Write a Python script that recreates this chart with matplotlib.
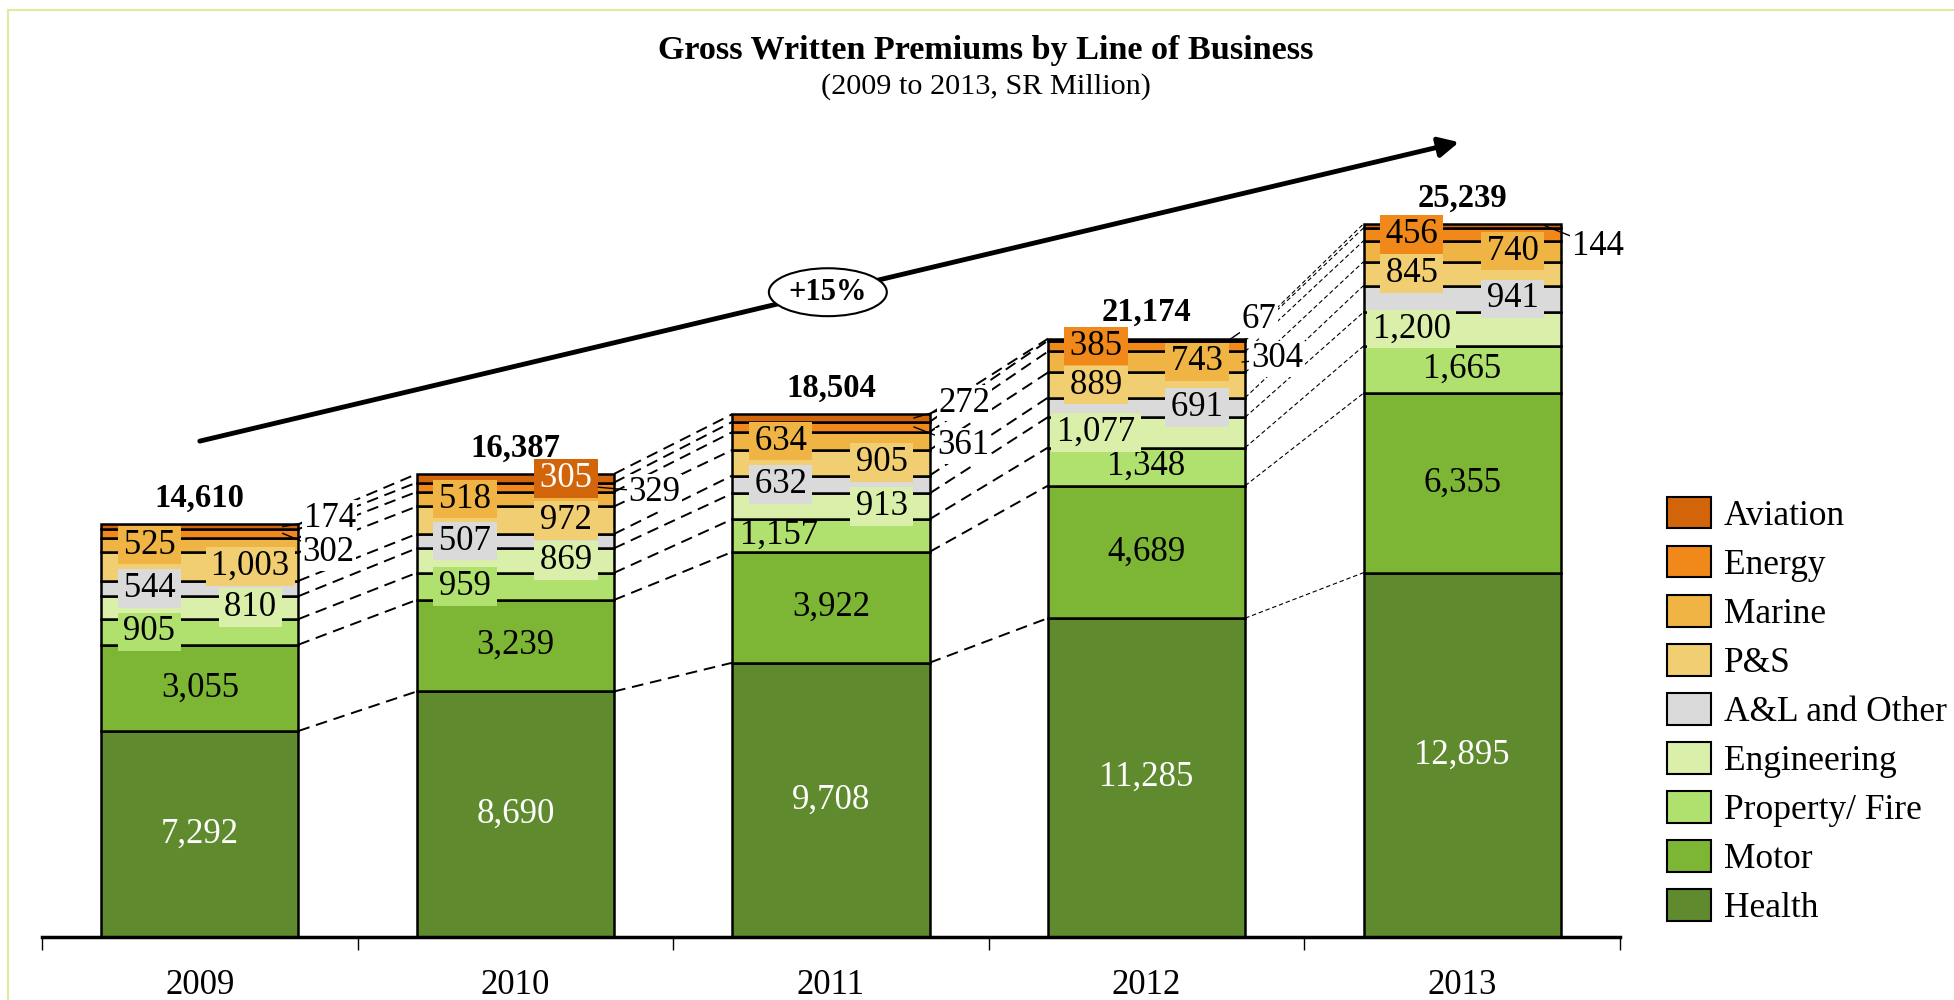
import numpy as np
import matplotlib
matplotlib.use('Agg')
import matplotlib.pyplot as plt
from matplotlib.patches import Patch, Rectangle

plt.rcParams['font.family'] = ['Liberation Serif', 'DejaVu Serif']

# data (SR Million)
years = ['2009', '2010', '2011', '2012', '2013']
lines_of_business = ['Health', 'Motor', 'Property/ Fire', 'Engineering', 'A&L and Other',
                     'P&S', 'Marine', 'Energy', 'Aviation']
health = [7292, 8690, 9708, 11285, 12895]
motor = [3055, 3239, 3922, 4689, 6355]
property_fire = [905, 959, 1157, 1348, 1665]
engineering = [810, 869, 913, 1077, 1200]
al_other = [544, 507, 632, 691, 941]
p_and_s = [1003, 972, 905, 889, 845]
marine = [525, 518, 634, 743, 740]
energy = [302, 329, 361, 385, 456]
aviation = [174, 305, 272, 67, 144]
totals = [14610, 16387, 18504, 21174, 25239]
growth_label = '+15%'
stray_label = '304'   # extra label shown next to 2012 bar

series = [health, motor, property_fire, engineering, al_other, p_and_s, marine, energy, aviation]
colors = ['#5F8A2E', '#7DB634', '#B0E06E', '#DAF0AA', '#DADADA',
          '#F2CE72', '#EFB443', '#F0891A', '#D2640A']

# label placement per year: c=center, l/r=left/right boxed, L=left no box, o=outside
label_layout = ['cclrlrloo', 'cclrlrlor', 'ccLrlrloo', 'ccclrlrlo', 'ccclrlrlo']
# outside labels: (year index, series index, dx px, dy px)
outside = [(0, 8, 21, 8), (0, 7, 20, -19), (1, 7, 30, -5), (2, 8, 25, 15),
           (2, 7, 23, -19), (3, 8, 12, 20), (4, 8, 27, -21)]

FS = 25
HS = '\u200a'

fig = plt.figure(figsize=(19.54, 10), dpi=100)
ax = fig.add_axes([42 / 1954, 0.063, 1578 / 1954, 0.907])
ax.set_xlim(-0.5, 4.5)
ax.set_ylim(0, 32100)

x = np.arange(len(years))
bw = 0.625
bottoms = np.zeros(len(years))
tops = []
for vals, color in zip(series, colors):
    ax.bar(x, vals, bw, bottom=bottoms, color=color, edgecolor='black', linewidth=1.8, zorder=2)
    bottoms = bottoms + np.array(vals)
    tops.append(bottoms.copy())

# dashed connectors between bars
for i in range(len(years) - 1):
    if i == len(years) - 2:
        lw, ls = 0.8, (0, (4, 2.5))
    else:
        lw, ls = 1.4, (0, (6, 3.5))
    for t in tops:
        ax.plot([i + bw / 2, i + 1 - bw / 2], [t[i], t[i + 1]], color='black',
                lw=lw, ls=ls, zorder=1)

# segment labels
xoff = {'c': 0.0, 'l': -0.16, 'L': -0.165, 'r': 0.16}
for i in range(len(years)):
    for k, vals in enumerate(series):
        code = label_layout[i][k]
        if code == 'o':
            continue
        v = vals[i]
        cy = tops[k][i] - v / 2
        tc = 'white' if k in (0, 8) else 'black'
        if code in 'lr':
            ax.text(i + xoff[code], cy, HS + '{:,}'.format(v) + HS, ha='center', va='center',
                    fontsize=FS, color=tc, zorder=4,
                    bbox=dict(boxstyle='square,pad=0.08', fc=colors[k], ec='none'))
        else:
            ax.text(i + xoff[code], cy, '{:,}'.format(v), ha='center', va='center',
                    fontsize=FS, color=tc, zorder=4)

# outside labels with leader lines
for i, k, dx, dy in outside:
    v = series[k][i]
    cy = tops[k][i] - v / 2
    ax.annotate('{:,}'.format(v), (i + bw / 2 - 0.05, cy), xytext=(dx, dy),
                textcoords='offset pixels', ha='left', va='center', fontsize=FS, zorder=5,
                bbox=dict(boxstyle='square,pad=0.05', fc='white', ec='none'),
                arrowprops=dict(arrowstyle='-', color='black', lw=1, shrinkA=0, shrinkB=0))

cy = tops[6][3] - marine[3] / 2
ax.annotate(stray_label, (3 + bw / 2 - 0.01, cy), xytext=(9, 3), textcoords='offset pixels',
            ha='left', va='center', fontsize=FS, zorder=5,
            bbox=dict(boxstyle='square,pad=0.05', fc='white', ec='none'),
            arrowprops=dict(arrowstyle='-', color='black', lw=1, shrinkA=0, shrinkB=0))

# totals
for i, t in enumerate(totals):
    ax.annotate('{:,}'.format(t), (i, tops[-1][i]), xytext=(0, 26), textcoords='offset pixels',
                ha='center', va='center', fontsize=23.5, fontweight='bold', zorder=5)

# growth arrow
ax.annotate('', xy=(3.99, 28130), xytext=(0.0, 17550),
            arrowprops=dict(arrowstyle='-|>,head_length=0.6,head_width=0.3', lw=3.5,
                            color='black', mutation_scale=20, shrinkA=0, shrinkB=0), zorder=3)
ax.text(1.99, 22820, growth_label, ha='center', va='center', fontsize=22, fontweight='bold',
        zorder=6, bbox=dict(boxstyle='ellipse,pad=0.08', fc='white', ec='black', lw=1.5))

# axes styling
for s in ['top', 'right', 'left']:
    ax.spines[s].set_visible(False)
ax.spines['bottom'].set_linewidth(2.5)
ax.set_yticks([])
ax.set_xticks(np.arange(-0.5, 5, 1))
ax.tick_params(axis='x', which='major', length=9, width=1, direction='out', labelbottom=False)
ax.set_xticks(x, minor=True)
ax.set_xticklabels(years, minor=True, fontsize=FS)
ax.tick_params(axis='x', which='minor', length=0, pad=23)

# legend
handles = [Patch(facecolor=c, edgecolor='black', linewidth=1.5, label=l)
           for c, l in zip(colors[::-1], lines_of_business[::-1])]
fig.legend(handles=handles, loc='center left', bbox_to_anchor=(1667 / 1954, 1 - 711 / 1000),
           frameon=False, fontsize=25.5, handlelength=1.23, handleheight=1.0,
           handletextpad=0.38, labelspacing=0.37, borderpad=0, borderaxespad=0)

# titles
fig.text(0.5046, 0.95, 'Gross Written Premiums by Line of Business', ha='center', va='center',
         fontsize=24.6, fontweight='bold')
fig.text(0.5046, 0.913, '(2009 to 2013, SR Million)', ha='center', va='center', fontsize=21.8)

# frame
fig.patches.append(Rectangle((8 / 1954, -0.1), 1.2, 1.09, transform=fig.transFigure,
                             fill=False, ec='#D9EEA0', lw=1.5))

fig.savefig('out.png', dpi=100)
